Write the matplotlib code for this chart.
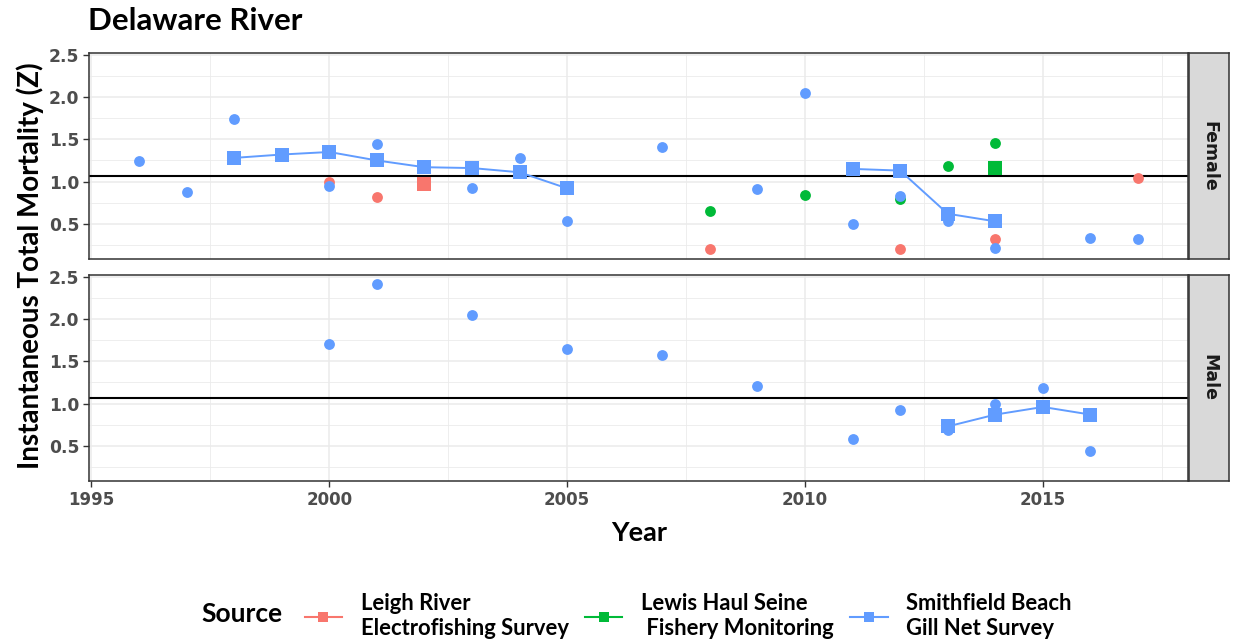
import matplotlib
matplotlib.use("Agg")
import matplotlib.pyplot as plt
from matplotlib.lines import Line2D

# ---------------- data ----------------
sources = ["Leigh River\nElectrofishing Survey",
           "Lewis Haul Seine\n Fishery Monitoring",
           "Smithfield Beach\nGill Net Survey"]
colors = ["#F8766D", "#00BA38", "#619CFF"]

# Female - circles (individual estimates)
f_red_years = [2000, 2001, 2008, 2012, 2014, 2017]
f_red_vals = [0.99, 0.82, 0.20, 0.20, 0.32, 1.04]
f_green_years = [2008, 2010, 2012, 2013, 2014]
f_green_vals = [0.65, 0.84, 0.80, 1.19, 1.46]
f_blue_years = [1996, 1997, 1998, 2000, 2001, 2003, 2004, 2005, 2007, 2009,
                2010, 2011, 2012, 2013, 2014, 2016, 2017]
f_blue_vals = [1.24, 0.88, 1.74, 0.95, 1.45, 0.93, 1.28, 0.54, 1.41, 0.91,
               2.05, 0.50, 0.83, 0.53, 0.21, 0.33, 0.32]
# Female - squares (mean estimates)
f_red_sq_years = [2002]
f_red_sq_vals = [0.97]
f_green_sq_years = [2014]
f_green_sq_vals = [1.16]
f_blue_sq_years_a = [1998, 1999, 2000, 2001, 2002, 2003, 2004, 2005]
f_blue_sq_vals_a = [1.28, 1.32, 1.35, 1.25, 1.17, 1.16, 1.11, 0.92]
f_blue_sq_years_b = [2011, 2012, 2013, 2014]
f_blue_sq_vals_b = [1.15, 1.13, 0.62, 0.53]

# Male - circles
m_blue_years = [2000, 2001, 2003, 2005, 2007, 2009, 2011, 2012, 2013, 2014, 2015, 2016]
m_blue_vals = [1.70, 2.41, 2.05, 1.64, 1.58, 1.21, 0.58, 0.93, 0.69, 1.00, 1.19, 0.44]
# Male - squares
m_blue_sq_years = [2013, 2014, 2015, 2016]
m_blue_sq_vals = [0.73, 0.87, 0.96, 0.87]

ref_z = 1.07
x_ticks = [1995, 2000, 2005, 2010, 2015]
y_ticks = [0.5, 1.0, 1.5, 2.0, 2.5]

# ---------------- figure ----------------
W, H = 1236, 640
fig = plt.figure(figsize=(W / 100, H / 100), dpi=100)

tick_font = "DejaVu Sans"
lab_font = "Lato"
grey30 = "#4D4D4D"
border = "#333333"

def px_axes(l, t, r, b):
    return fig.add_axes([l / W, 1 - b / H, (r - l) / W, (b - t) / H])

def style(ax, show_x):
    ax.set_xlim(1994.95, 2018.05)
    ax.set_ylim(0.085, 2.52)
    ax.set_xticks(x_ticks)
    ax.set_yticks(y_ticks)
    ax.set_xticks([1997.5, 2002.5, 2007.5, 2012.5, 2017.5], minor=True)
    ax.set_yticks([0.25, 0.75, 1.25, 1.75, 2.25], minor=True)
    ax.grid(True, which="major", color="#EBEBEB", linewidth=1.1, zorder=0)
    ax.grid(True, which="minor", color="#EBEBEB", linewidth=0.6, zorder=0)
    ax.set_axisbelow(True)
    ax.tick_params(which="minor", length=0)
    ax.tick_params(which="major", length=4, width=1.0, color=border,
                   labelcolor=grey30, labelsize=12.3, pad=3)
    ax.set_yticklabels([f"{v:.1f}" for v in y_ticks], fontfamily=tick_font,
                       fontweight="bold")
    if show_x:
        ax.set_xticklabels([str(v) for v in x_ticks], fontfamily=tick_font,
                           fontweight="bold", fontsize=12)
    else:
        ax.tick_params(axis="x", which="both", length=0, labelbottom=False)
    for s in ax.spines.values():
        s.set_color(border)
        s.set_linewidth(1.1)

def strip(t, b, text):
    sax = px_axes(1189, t, 1229, b)
    sax.set_facecolor("#D9D9D9")
    sax.set_xticks([])
    sax.set_yticks([])
    for s in sax.spines.values():
        s.set_color(border)
        s.set_linewidth(1.1)
    sax.text(0.5, 0.5, text, rotation=-90, ha="center", va="center",
             fontsize=12.5, fontweight="bold", fontfamily=tick_font,
             color="#1A1A1A", transform=sax.transAxes)

circ_ms = 7.8
sq_ms = 10

# Female panel
axf = px_axes(89, 53, 1188, 259)
style(axf, False)
axf.axhline(ref_z, color="black", linewidth=1.5, zorder=2)
axf.plot(f_red_years, f_red_vals, "o", color=colors[0], ms=circ_ms, mew=0, zorder=3)
axf.plot(f_green_years, f_green_vals, "o", color=colors[1], ms=circ_ms, mew=0, zorder=3)
axf.plot(f_blue_years, f_blue_vals, "o", color=colors[2], ms=circ_ms, mew=0, zorder=3)
axf.plot(f_red_sq_years, f_red_sq_vals, "s-", color=colors[0], ms=sq_ms, mew=0, lw=1.4, zorder=4)
axf.plot(f_green_sq_years, f_green_sq_vals, "s-", color=colors[1], ms=sq_ms, mew=0, lw=1.4, zorder=4)
axf.plot(f_blue_sq_years_a, f_blue_sq_vals_a, "s-", color=colors[2], ms=sq_ms, mew=0, lw=1.4, zorder=4)
axf.plot(f_blue_sq_years_b, f_blue_sq_vals_b, "s-", color=colors[2], ms=sq_ms, mew=0, lw=1.4, zorder=4)
strip(53, 259, "Female")

# Male panel
axm = px_axes(89, 275, 1188, 481)
style(axm, True)
axm.axhline(ref_z, color="black", linewidth=1.5, zorder=2)
axm.plot(m_blue_years, m_blue_vals, "o", color=colors[2], ms=circ_ms, mew=0, zorder=3)
axm.plot(m_blue_sq_years, m_blue_sq_vals, "s-", color=colors[2], ms=sq_ms, mew=0, lw=1.4, zorder=4)
strip(275, 481, "Male")

# Titles and labels
fig.text(88 / W, 1 - 21 / H, "Delaware River", fontsize=22.5, fontweight="bold",
         fontfamily=lab_font, ha="left", va="center", color="black")
fig.text(30 / W, 1 - 266 / H, "Instantaneous Total Mortality (Z)", rotation=90,
         fontsize=20, fontweight="bold", fontfamily=lab_font, ha="center",
         va="center", color="black")
fig.text(639 / W, 1 - 533 / H, "Year", fontsize=19.5, fontweight="bold",
         fontfamily=lab_font, ha="center", va="center", color="black")

# Legend
fig.text(242 / W, 1 - 614 / H, "Source", fontsize=19, fontweight="bold",
         fontfamily=lab_font, ha="center", va="center", color="black")
handles = [Line2D([0], [0], color=c, marker="s", ms=7.5, mew=0, lw=1.5)
           for c in colors]
leg_fs = 15.8
leg = fig.legend(handles, sources, loc="center left",
                 bbox_to_anchor=(285 / W, 1 - 616 / H),
                 ncol=3, frameon=False, handlelength=1.7, handletextpad=0.85,
                 columnspacing=0.75, borderpad=0.4,
                 prop={"family": lab_font, "weight": "bold", "size": leg_fs})

fig.savefig("out.png", dpi=100)
